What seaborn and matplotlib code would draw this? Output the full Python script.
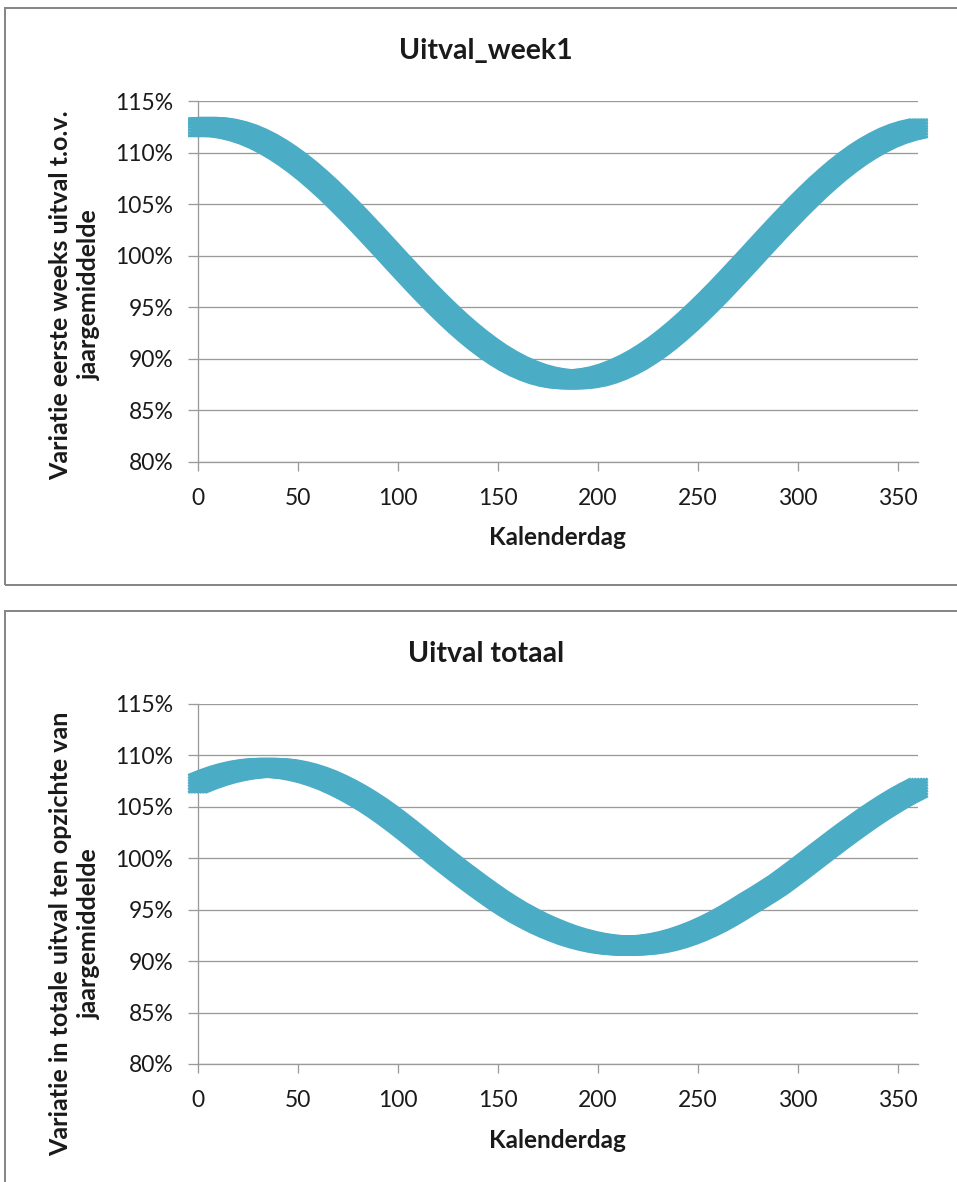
import matplotlib
matplotlib.use("Agg")
import matplotlib.pyplot as plt
from matplotlib import patheffects as pe
from matplotlib.patches import Rectangle
from matplotlib.ticker import FuncFormatter
import pandas as pd
import seaborn as sns

# Calendar days (every 5 days) and the relative dropout per day, in % of the yearly mean
days = [0, 5, 10, 15, 20, 25, 30, 35, 40, 45, 50, 55, 60, 65, 70, 75, 80, 85, 90, 95,
        100, 105, 110, 115, 120, 125, 130, 135, 140, 145, 150, 155, 160, 165, 170, 175,
        180, 185, 190, 195, 200, 205, 210, 215, 220, 225, 230, 235, 240, 245, 250, 255,
        260, 265, 270, 275, 280, 285, 290, 295, 300, 305, 310, 315, 320, 325, 330, 335,
        340, 345, 350, 355, 360]

uitval_week1 = [112.46, 112.50, 112.45, 112.30, 112.07, 111.75, 111.34, 110.85, 110.28, 109.64,
                108.93, 108.16, 107.32, 106.44, 105.50, 104.53, 103.53, 102.50, 101.46, 100.41,
                99.35, 98.31, 97.27, 96.26, 95.28, 94.34, 93.44, 92.59, 91.80, 91.07,
                90.40, 89.81, 89.30, 88.87, 88.52, 88.26, 88.09, 88.01, 88.02, 88.12,
                88.30, 88.58, 88.95, 89.40, 89.92, 90.53, 91.20, 91.95, 92.76, 93.62,
                94.53, 95.48, 96.46, 97.48, 98.52, 99.56, 100.62, 101.67, 102.71, 103.73,
                104.73, 105.69, 106.62, 107.49, 108.32, 109.08, 109.78, 110.40, 110.95, 111.43,
                111.82, 112.12, 112.34]

uitval_totaal = [107.28, 107.67, 108.01, 108.29, 108.51, 108.67, 108.77, 108.80, 108.76, 108.66,
                 108.48, 108.24, 107.93, 107.56, 107.12, 106.63, 106.09, 105.50, 104.86, 104.17,
                 103.44, 102.68, 101.90, 101.11, 100.31, 99.55, 98.79, 98.06, 97.34, 96.64,
                 95.96, 95.33, 94.74, 94.21, 93.71, 93.27, 92.87, 92.51, 92.21, 91.96,
                 91.76, 91.62, 91.53, 91.50, 91.53, 91.61, 91.75, 91.96, 92.23, 92.56,
                 92.94, 93.38, 93.86, 94.40, 94.98, 95.59, 96.17, 96.78, 97.41, 98.12,
                 98.85, 99.59, 100.34, 101.08, 101.82, 102.54, 103.24, 103.93, 104.58, 105.20,
                 105.79, 106.33, 106.83]

titles = ["Uitval_week1", "Uitval totaal"]
ylabels = ["Variatie eerste weeks uitval t.o.v.\njaargemiddelde",
           "Variatie in totale uitval ten opzichte van\njaargemiddelde"]
xlabel = "Kalenderdag"
x_ticks = [0, 50, 100, 150, 200, 250, 300, 350]
y_ticks = [80, 85, 90, 95, 100, 105, 110, 115]

sns.set_style("white")
plt.rcParams["font.family"] = ["Lato", "DejaVu Sans"]

W, H = 957, 1182
fig = plt.figure(figsize=(W / 100, H / 100), dpi=100)
fig.patch.set_facecolor("white")

PX = 72 / 100  # points per pixel
LINE_COLOR = "#4bacc6"
GRID_COLOR = "#9a9a9a"
BORDER_COLOR = "#878787"
TEXT_COLOR = "#1a1a1a"


def fx(px):
    return px / W


def fy(py):
    return 1 - py / H


# square marker sweep: a thin stroke repeated over a small grid of offsets
steps = [-8.5, -5.67, -2.83, 0.0, 2.83, 5.67, 8.5]
sweep = [pe.Stroke(offset=(dx * PX, dy * PX), linewidth=3 * PX,
                   foreground=LINE_COLOR, capstyle="projecting", joinstyle="round")
         for dx in steps for dy in steps]

panels = [
    dict(values=uitval_week1, box=(8, 585), ax_y=(101, 462), title_y=59,
         xlabel_y=545, ylabel_y=295),
    dict(values=uitval_totaal, box=(611, 1200), ax_y=(704, 1064), title_y=662,
         xlabel_y=1148, ylabel_y=934),
]

for i, p in enumerate(panels):
    top_px, bot_px = p["box"]
    fig.patches.append(Rectangle((fx(5), fy(bot_px)), fx(980), fy(top_px) - fy(bot_px),
                                 transform=fig.transFigure, fill=False,
                                 edgecolor=BORDER_COLOR, linewidth=2 * PX, zorder=0))

    a_top, a_bot = p["ax_y"]
    ax = fig.add_axes([fx(198), fy(a_bot), fx(918) - fx(198), fy(a_top) - fy(a_bot)])
    ax.set_facecolor("none")

    df = pd.DataFrame({"dag": days, "waarde": p["values"]})
    sns.lineplot(data=df, x="dag", y="waarde", ax=ax, color=LINE_COLOR,
                 linewidth=3 * PX, clip_on=False, path_effects=sweep, zorder=5)

    ax.set_xlim(0, 360)
    ax.set_ylim(80, 115)
    ax.set_xticks(x_ticks)
    ax.set_yticks(y_ticks)
    ax.yaxis.set_major_formatter(FuncFormatter(lambda v, _: f"{v:.0f}%"))

    ax.grid(axis="y", color=GRID_COLOR, linewidth=1.3 * PX)
    ax.grid(axis="x", visible=False)
    ax.set_axisbelow(True)
    for side in ["top", "right"]:
        ax.spines[side].set_visible(False)
    for side in ["left", "bottom"]:
        ax.spines[side].set_color(GRID_COLOR)
        ax.spines[side].set_linewidth(1.3 * PX)

    ax.tick_params(axis="y", direction="out", length=10 * PX, width=1.3 * PX,
                   color=GRID_COLOR, pad=10.5, labelsize=16.5, labelcolor=TEXT_COLOR, left=True)
    ax.tick_params(axis="x", direction="out", length=9 * PX, width=1.3 * PX,
                   color=GRID_COLOR, pad=12, labelsize=16.5, labelcolor=TEXT_COLOR, bottom=True)
    ax.set_xlabel("")
    ax.set_ylabel("")

    fig.text(fx(486), fy(p["title_y"]), titles[i], ha="center", va="baseline",
             fontsize=20.5, fontweight="bold", color=TEXT_COLOR)
    fig.text(fx(557), fy(p["xlabel_y"]), xlabel, ha="center", va="baseline",
             fontsize=17.5, fontweight="bold", color=TEXT_COLOR)
    fig.text(fx(75), fy(p["ylabel_y"]), ylabels[i], ha="center", va="center",
             rotation=90, multialignment="center", linespacing=1.3,
             fontsize=18, fontweight="bold", color=TEXT_COLOR)

fig.savefig("out.png", dpi=100, facecolor="white")
